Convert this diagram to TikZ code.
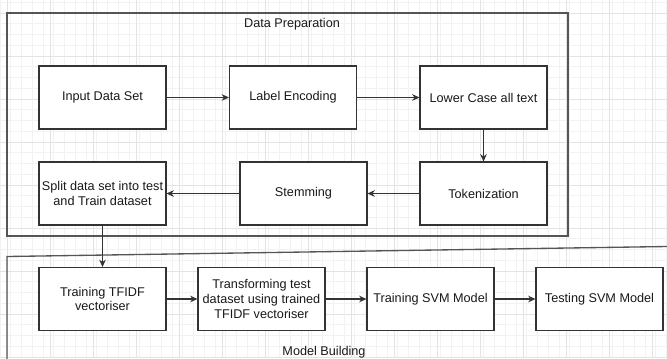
\documentclass[tikz,border=0pt]{standalone}
\usepackage{fontspec}
\setmainfont{Liberation Sans}
\usetikzlibrary{arrows.meta,calc}

\definecolor{gridminor}{HTML}{F2F2F2}
\definecolor{gridmajor}{HTML}{E3E3E3}
\definecolor{boxline}{HTML}{333333}
\definecolor{frameline}{HTML}{555555}

\tikzset{
  stage/.style={rectangle, draw=boxline, line width=0.8pt, fill=white,
    minimum width=95.25pt, minimum height=47.25pt, inner sep=1pt,
    align=center, text=black!90, font=\fontsize{9.5}{11}\selectfont},
  flow/.style={->, >={Stealth[length=5.5pt,width=5pt]}, line width=0.8pt, draw=boxline},
  frame/.style={draw=frameline, line width=1pt},
  caption/.style={font=\fontsize{9.5}{11}\selectfont, text=black!90}
}

\begin{document}
\begin{tikzpicture}[x=0.75pt, y=-0.75pt]
		\useasboundingbox (0, 0) rectangle (667, 358);

		% background grid
		\foreach \gx in {0, 10.75, ..., 667} \draw[gridminor, line width=0.4pt] (\gx, 0) -- (\gx, 358);
		\foreach \gy in {2.25, 13, ..., 358} \draw[gridminor, line width=0.4pt] (0, \gy) -- (667, \gy);
		\foreach \gx in {7, 50, ..., 667} \draw[gridmajor, line width=0.5pt] (\gx, 0) -- (\gx, 358);
		\foreach \gy in {13, 56, ..., 358} \draw[gridmajor, line width=0.5pt] (0, \gy) -- (667, \gy);

		% the two containers
		\draw[frame] (7, 13) rectangle (568, 236);
		\draw[frame] (7, 360) -- (7, 256.5) -- (667, 246.5);
		\path (292, 24) node[caption] (prep) {Data Preparation}
  		(324, 352) node[caption] (build) {Model Building};

		\path (102.5, 97.5) node[stage] (input) {Input Data Set}
  		(293, 97.5) node[stage] (encode) {Label Encoding}
  		(483.5, 97.5) node[stage] (lower) {Lower Case all text}
  		(483.5, 193.5) node[stage] (token) {Tokenization}
  		(303.5, 193.5) node[stage] (stem) {Stemming}
  		(102.5, 193.5) node[stage] (split) {Split data set into test\\and Train dataset}
  		(102.5, 299) node[stage] (tfidf) {Training TFIDF\\vectoriser}
  		(261.5, 299) node[stage] (transform) {Transforming test\\dataset using trained\\TFIDF vectoriser}
  		(430.5, 299) node[stage] (svmtrain) {Training SVM Model}
  		(599.5, 299) node[stage] (svmtest) {Testing SVM Model};

		\draw[flow] (input) -- (encode);
		\draw[flow] (encode) -- (lower);
		\draw[flow] (lower) -- (token);
		\draw[flow] (token) -- (stem);
		\draw[flow] (stem) -- (split);
		\draw[flow] (split) -- (tfidf);
		\draw[flow] (tfidf) -- (transform);
		\draw[flow] (transform) -- (svmtrain);
		\draw[flow] (svmtrain) -- (svmtest);
	\end{tikzpicture}
\end{document}
